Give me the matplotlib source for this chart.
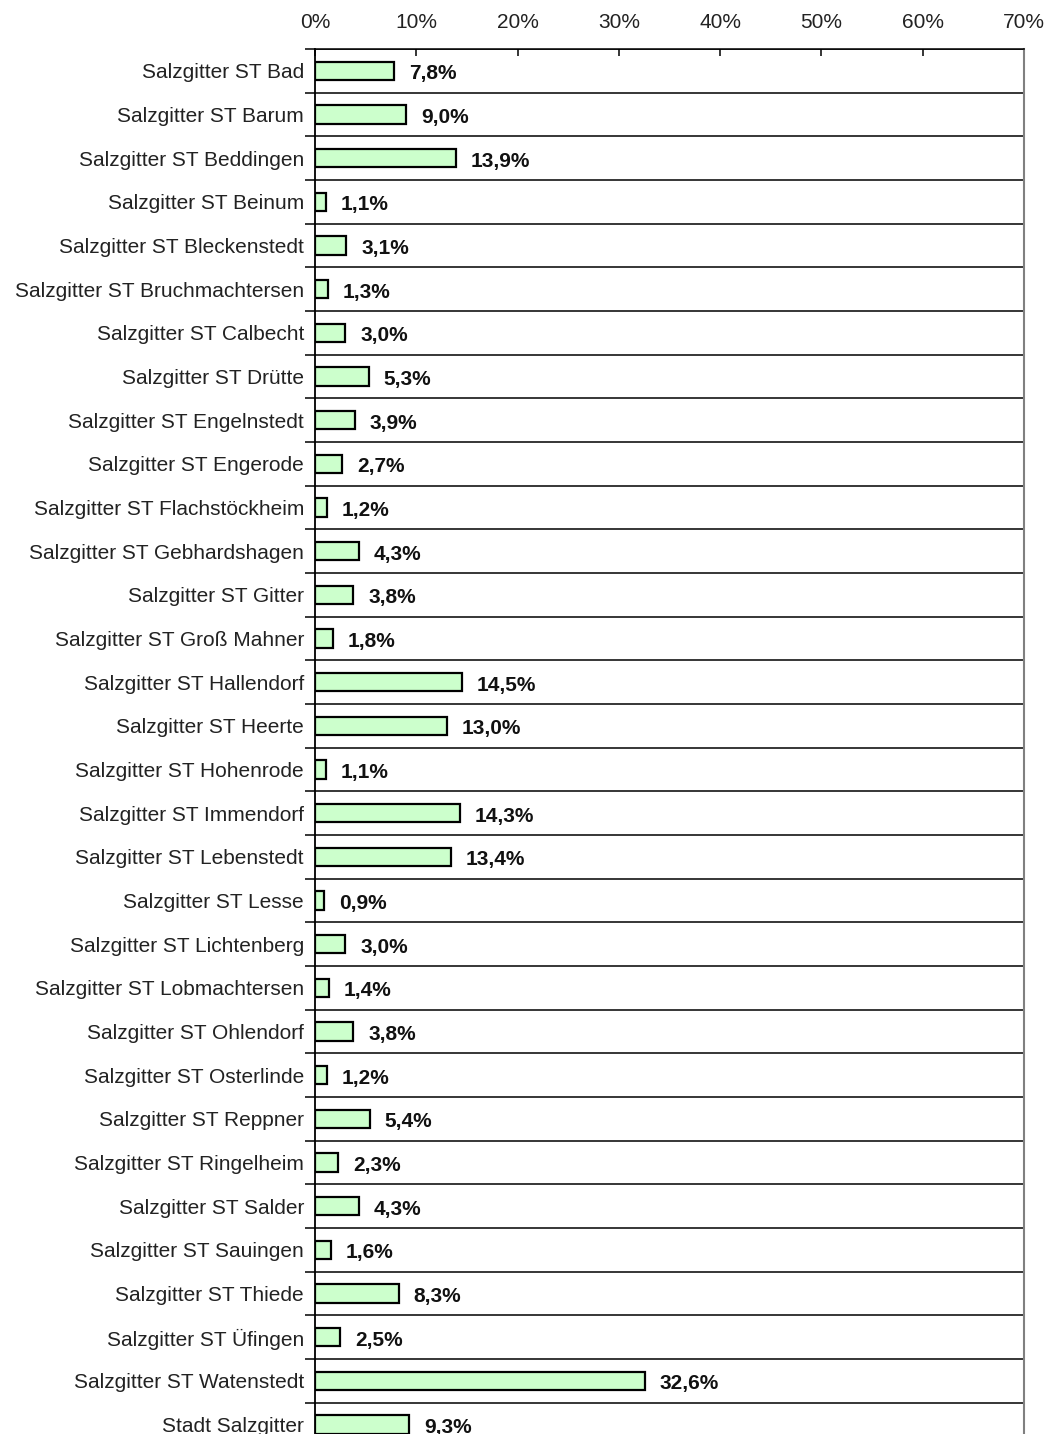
import matplotlib.pyplot as plt
import numpy as np

names = ["Salzgitter ST Bad", "Salzgitter ST Barum", "Salzgitter ST Beddingen",
         "Salzgitter ST Beinum", "Salzgitter ST Bleckenstedt", "Salzgitter ST Bruchmachtersen",
         "Salzgitter ST Calbecht", "Salzgitter ST Drütte", "Salzgitter ST Engelnstedt",
         "Salzgitter ST Engerode", "Salzgitter ST Flachstöckheim", "Salzgitter ST Gebhardshagen",
         "Salzgitter ST Gitter", "Salzgitter ST Groß Mahner", "Salzgitter ST Hallendorf",
         "Salzgitter ST Heerte", "Salzgitter ST Hohenrode", "Salzgitter ST Immendorf",
         "Salzgitter ST Lebenstedt", "Salzgitter ST Lesse", "Salzgitter ST Lichtenberg",
         "Salzgitter ST Lobmachtersen", "Salzgitter ST Ohlendorf", "Salzgitter ST Osterlinde",
         "Salzgitter ST Reppner", "Salzgitter ST Ringelheim", "Salzgitter ST Salder",
         "Salzgitter ST Sauingen", "Salzgitter ST Thiede", "Salzgitter ST Üfingen",
         "Salzgitter ST Watenstedt", "Stadt Salzgitter"]
values = [7.8, 9.0, 13.9, 1.1, 3.1, 1.3, 3.0, 5.3, 3.9, 2.7, 1.2, 4.3, 3.8, 1.8, 14.5,
          13.0, 1.1, 14.3, 13.4, 0.9, 3.0, 1.4, 3.8, 1.2, 5.4, 2.3, 4.3, 1.6, 8.3, 2.5,
          32.6, 9.3]
xticks = [0, 10, 20, 30, 40, 50, 60, 70]

plt.rcParams['font.family'] = ['Liberation Sans', 'DejaVu Sans']

W, H = 1047, 1434
fig = plt.figure(figsize=(W / 100, H / 100), dpi=100)
n = len(names)
row = 43.67
top_px, left_px, right_px = 49, 315, 1024
bottom_px = top_px + n * row
ax = fig.add_axes([left_px / W, 1 - bottom_px / H, (right_px - left_px) / W, (bottom_px - top_px) / H])

y = np.arange(n)
ax.barh(y, values, height=0.42, color='#CCFFCC', edgecolor='black', linewidth=1.6)
for yi, v in zip(y, values):
    ax.text(v + 1.45, yi + 0.07, f"{v:.1f}%".replace('.', ','), va='center', ha='left',
            fontsize=15, fontweight='bold', color='#111111')

ax.set_xlim(0, 70)
ax.set_ylim(n - 0.5, -0.5)

# horizontal separators between categories
for b in np.arange(-0.5, n, 1.0):
    ax.axhline(b, color='black', linewidth=1.1, zorder=0)

ax.set_yticks(y)
ax.set_yticklabels(names, fontsize=15, color='#222222')
ax.set_yticks(np.arange(-0.5, n, 1.0), minor=True)
ax.tick_params(axis='y', which='major', length=0, pad=8)
ax.tick_params(axis='y', which='minor', length=7, width=1.1, direction='out', color='black')

ax.xaxis.tick_top()
ax.set_xticks(xticks)
ax.set_xticklabels([f"{t}%" for t in xticks], fontsize=15, color='#222222')
ax.tick_params(axis='x', length=5, width=1.1, direction='in', pad=12)

ax.spines['top'].set_linewidth(1.1)
ax.spines['left'].set_linewidth(1.3)
ax.spines['right'].set_color('#808080')
ax.spines['right'].set_linewidth(1.5)
ax.spines['bottom'].set_visible(False)

fig.savefig('out.png', dpi=100)
